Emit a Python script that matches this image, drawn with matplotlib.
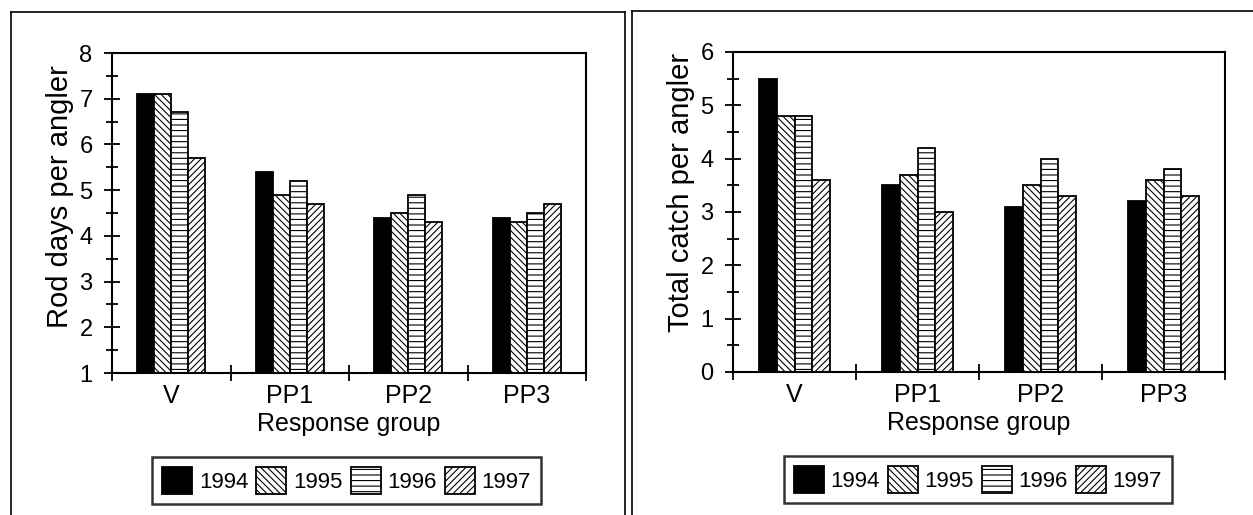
import numpy as np
import matplotlib
matplotlib.use('Agg')
import matplotlib.pyplot as plt
from matplotlib.lines import Line2D
from matplotlib.ticker import MultipleLocator

plt.rcParams['font.family'] = ['Liberation Sans', 'DejaVu Sans']
plt.rcParams['hatch.linewidth'] = 0.8

# 数据
groups = ['V', 'PP1', 'PP2', 'PP3']
years = ['1994', '1995', '1996', '1997']
rod_days = [
    [7.1, 5.4, 4.4, 4.4],   # 1994
    [7.1, 4.9, 4.5, 4.3],   # 1995
    [6.7, 5.2, 4.9, 4.5],   # 1996
    [5.7, 4.7, 4.3, 4.7],   # 1997
]
total_catch = [
    [5.5, 3.5, 3.1, 3.2],
    [4.8, 3.7, 3.5, 3.6],
    [4.8, 4.2, 4.0, 3.8],
    [3.6, 3.0, 3.3, 3.3],
]

W, H = 1253, 515
fig = plt.figure(figsize=(W / 100, H / 100), dpi=100)

# 面板边框
def fline(xs, ys):
    fig.add_artist(Line2D([x / W for x in xs], [1 - y / H for y in ys],
                          color='black', lw=1.2, transform=fig.transFigure))

fline([11, 11], [12, 520])
fline([11, 625], [12, 12])
fline([625, 625], [12, 520])
fline([632, 632], [11, 520])
fline([632, 1260], [11, 11])

fills = ['black', 'white', 'white', 'white']
hatches = [None, '\\\\\\\\\\', '---', '/////']


def draw(rect, data, ylim, ylabel, label_y, leg_xy):
    ax = fig.add_axes([rect[0] / W, 1 - rect[3] / H, (rect[2] - rect[0]) / W,
                       (rect[3] - rect[1]) / H])
    x = np.arange(len(groups))
    bw = 0.143
    for i in range(len(years)):
        ax.bar(x + (i - 1.5) * bw, [v - ylim[0] for v in data[i]], bw,
               bottom=ylim[0], color=fills[i], edgecolor='black',
               hatch=hatches[i], linewidth=1.3, label=years[i])
    ax.set_xlim(-0.5, len(groups) - 0.5)
    ax.set_ylim(*ylim)
    ax.yaxis.set_major_locator(MultipleLocator(1))
    ax.yaxis.set_minor_locator(MultipleLocator(0.5))
    ax.tick_params(axis='y', which='major', direction='inout', length=12,
                   width=1.3, labelsize=17, pad=8)
    ax.tick_params(axis='y', which='minor', direction='inout', length=8,
                   width=1.3)
    ax.set_xticks(np.arange(-0.5, len(groups), 1.0))
    ax.set_xticklabels([])
    ax.set_xticks(x, minor=True)
    ax.set_xticklabels(groups, minor=True, fontsize=18)
    ax.tick_params(axis='x', which='major', direction='inout', length=12,
                   width=1.3)
    ax.tick_params(axis='x', which='minor', length=0, pad=8)
    for s in ax.spines.values():
        s.set_linewidth(1.5)
    ax.set_ylabel(ylabel, fontsize=21, labelpad=4)
    ax.yaxis.label.set_y(label_y)
    ax.set_xlabel('Response group', fontsize=18, labelpad=3)
    leg = ax.legend(loc='center', bbox_to_anchor=(leg_xy[0] / W, 1 - leg_xy[1] / H),
                    bbox_transform=fig.transFigure, ncol=4, fontsize=16,
                    frameon=True, fancybox=False, edgecolor='black',
                    handlelength=1.35, handleheight=1.45, handletextpad=0.3,
                    columnspacing=0.36, borderpad=0.45, borderaxespad=0)
    leg.get_frame().set_linewidth(1.8)
    return ax


draw((112, 53, 586, 373), rod_days, (1, 8), 'Rod days per angler', 0.55,
     (346.5, 480.5))
draw((733, 52, 1225, 372), total_catch, (0, 6), 'Total catch per angler', 0.56,
     (978, 479.5))

fig.savefig('out.png', dpi=100)
